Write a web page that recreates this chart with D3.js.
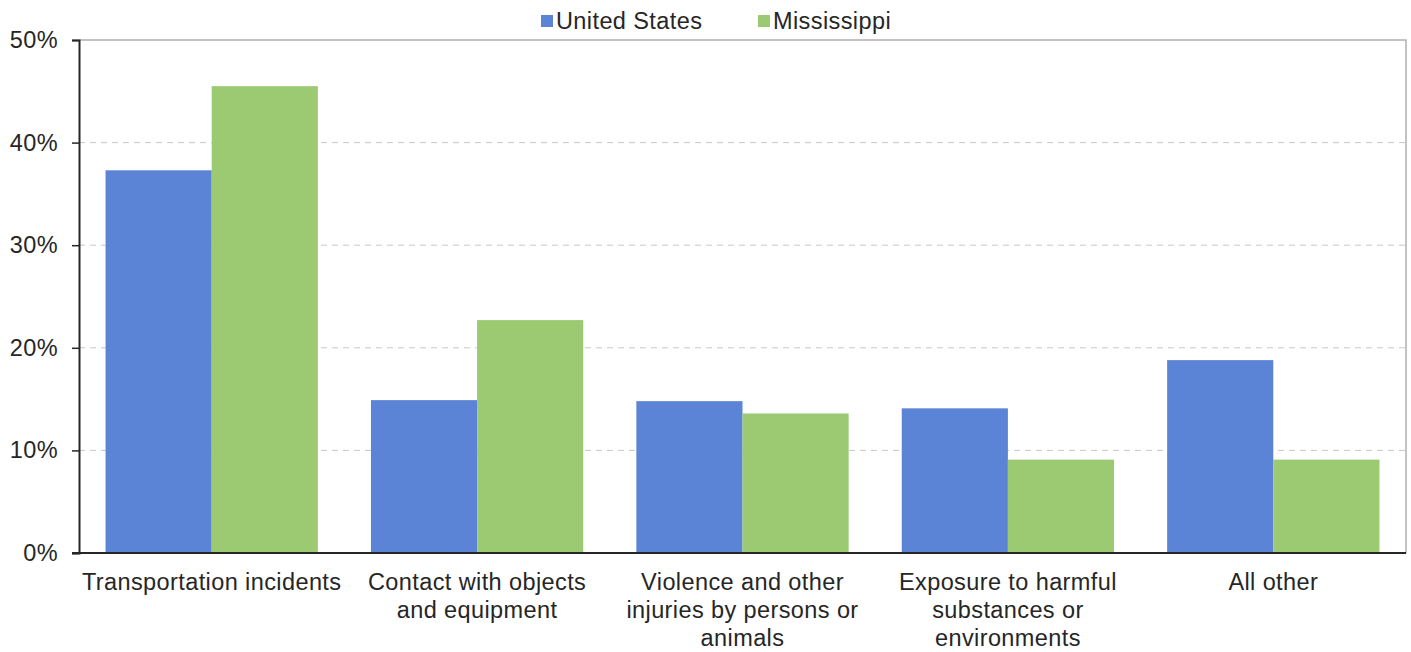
<!DOCTYPE html>
<html>
<head>
<meta charset="utf-8">
<script src="https://cdn.jsdelivr.net/npm/d3@7"></script>
<style>
  body { margin: 0; background: #fff; }
  text { font-family: "Liberation Sans", Arial, sans-serif; fill: #262626; letter-spacing: 0.4px; }
</style>
</head>
<body>
<div class="chart"></div>
<script>
const width = 1411;
const height = 652;
const margin = {top: 40, right: 5, bottom: 99, left: 79};
const FONT = 23.5;

const categories = [
    ["Transportation incidents"],
    ["Contact with objects", "and equipment"],
    ["Violence and other", "injuries by persons or", "animals"],
    ["Exposure to harmful", "substances or", "environments"],
    ["All other"]
];
const seriesNames = ["United States", "Mississippi"];
const usValues = [37.3, 14.9, 14.8, 14.1, 18.8];
const msValues = [45.5, 22.7, 13.6, 9.1, 9.1];
const tickValues = [0, 10, 20, 30, 40, 50];
const colors = ["#5b84d6", "#9bca72"];

const svg = d3.select('.chart')
    .append('svg')
    .attr('width', width)
    .attr('height', height)

const x = d3.scaleBand()
    .domain(d3.range(categories.length))
    .range([margin.left, width - margin.right])
    .paddingInner(0.2)
    .paddingOuter(0.1)

const xSub = d3.scaleBand()
    .domain(seriesNames)
    .range([0, x.bandwidth()])

const y = d3.scaleLinear()
    .domain([0, 50])
    .range([height - margin.bottom, margin.top])

// gridlines
svg.append('g')
    .selectAll('line')
    .data(tickValues.filter(t => t > 0 && t < 50))
    .enter()
    .append('line')
    .attr('x1', margin.left)
    .attr('x2', width - margin.right)
    .attr('y1', d => y(d))
    .attr('y2', d => y(d))
    .attr('stroke', '#c8c8c8')
    .attr('stroke-dasharray', '6,5')

// plot border top/right
svg.append('path')
    .attr('d', `M${margin.left},${y(50)}H${width - margin.right}V${y(0)}`)
    .attr('fill', 'none')
    .attr('stroke', '#b0b0b0')
    .attr('stroke-width', 1.5)

const data = categories.map((c, i) => ({i, values: [usValues[i], msValues[i]]}))

const groups = svg.selectAll('.grp')
    .data(data)
    .enter()
    .append('g')
    .attr('transform', d => `translate(${x(d.i)},0)`)

groups.selectAll('rect')
    .data(d => d.values.map((v, k) => ({v, k})))
    .enter()
    .append('rect')
    .attr('x', d => xSub(seriesNames[d.k]))
    .attr('width', xSub.bandwidth())
    .attr('y', d => y(d.v))
    .attr('height', d => y(0) - y(d.v))
    .attr('fill', d => colors[d.k])

// y axis
const yAxis = svg.append('g')
    .attr('transform', `translate(${margin.left},0)`)
    .call(d3.axisLeft(y).tickValues(tickValues).tickFormat(d => d + '%').tickSizeOuter(0).tickSize(7).tickPadding(14))
yAxis.select('.domain').attr('stroke', '#262626').attr('stroke-width', 2)
yAxis.selectAll('.tick line').attr('stroke', '#262626').attr('stroke-width', 1.5)
yAxis.selectAll('.tick text').attr('font-size', FONT).attr('fill', '#262626')
    .attr('font-family', '"Liberation Sans", Arial, sans-serif')

// x axis line
svg.append('line')
    .attr('x1', margin.left - 7)
    .attr('x2', width - margin.right)
    .attr('y1', y(0))
    .attr('y2', y(0))
    .attr('stroke', '#262626')
    .attr('stroke-width', 2)

// category labels
const labels = svg.append('g')
    .selectAll('text')
    .data(categories)
    .enter()
    .append('text')
    .attr('text-anchor', 'middle')
    .attr('font-size', FONT)
    .attr('x', (d, i) => x(i) + x.bandwidth() / 2)
    .attr('y', y(0) + 37)

labels.selectAll('tspan')
    .data(d => d)
    .enter()
    .append('tspan')
    .attr('x', function () { return d3.select(this.parentNode).attr('x') })
    .attr('dy', (d, i) => i === 0 ? 0 : 28)
    .text(d => d)

// legend
const legendPos = [541, 758];
const legend = svg.append('g')
    .selectAll('g')
    .data(seriesNames)
    .enter()
    .append('g')
    .attr('transform', (d, i) => `translate(${legendPos[i]},15)`)

legend.append('rect')
    .attr('width', 12)
    .attr('height', 12)
    .attr('fill', (d, i) => colors[i])

legend.append('text')
    .attr('x', 15)
    .attr('y', 14)
    .attr('font-size', FONT)
    .text(d => d)
</script>
</body>
</html>
